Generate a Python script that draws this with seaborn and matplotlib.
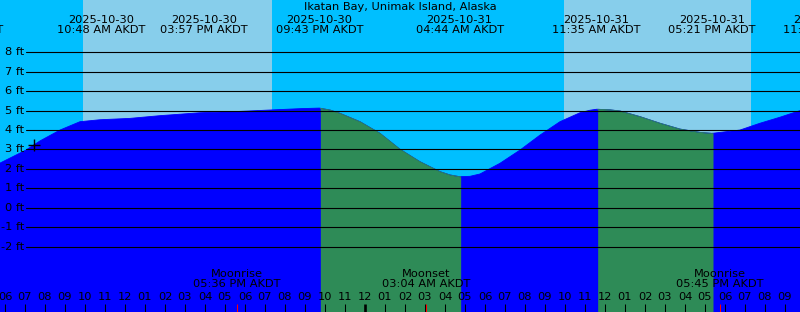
import numpy as np
import pandas as pd
import matplotlib
matplotlib.use("Agg")
import matplotlib.pyplot as plt
import seaborn as sns
from matplotlib.transforms import blended_transform_factory

# ---------------- data ----------------
title = "Ikatan Bay, Unimak Island, Alaska"
base = pd.Timestamp("2025-10-30 00:00")

# tide curve: hours since 2025-10-30 00:00 AKDT, height in ft
curve_hours = [5.75, 7.05, 7.75, 8.75, 9.75, 10.75, 12.25, 13.75, 15.75, 17.75,
               19.25, 20.75, 21.717, 22.25, 22.75, 23.75, 24.75, 25.75, 26.75,
               27.75, 28.25, 28.733, 29.25, 29.75, 30.75, 31.75, 32.75, 33.75,
               34.75, 35.25, 35.583, 36.25, 36.75, 37.75, 38.75, 39.75, 40.75,
               41.35, 42.75, 43.75, 44.75, 45.75]
curve_ft = [2.30, 2.97, 3.44, 4.00, 4.43, 4.53, 4.60, 4.74, 4.89, 4.96,
            5.03, 5.10, 5.13, 5.03, 4.86, 4.43, 3.83, 3.01, 2.37,
            1.86, 1.69, 1.60, 1.62, 1.74, 2.29, 2.97, 3.74, 4.43,
            4.89, 5.02, 5.07, 5.04, 4.98, 4.69, 4.35, 4.05, 3.88,
            3.83, 4.00, 4.35, 4.66, 5.00]

tide_times = ["2025-10-30 03:42", "2025-10-30 10:48", "2025-10-30 15:57",
              "2025-10-30 21:43", "2025-10-31 04:44", "2025-10-31 11:35",
              "2025-10-31 17:21", "2025-10-31 23:05"]
tide_dates = ["2025-10-30", "2025-10-30", "2025-10-30", "2025-10-30",
              "2025-10-31", "2025-10-31", "2025-10-31", "2025-10-31"]
tide_clock = ["03:42 AM AKDT", "10:48 AM AKDT", "03:57 PM AKDT", "09:43 PM AKDT",
              "04:44 AM AKDT", "11:35 AM AKDT", "05:21 PM AKDT", "11:05 PM AKDT"]

sunrise = ["2025-10-30 09:54", "2025-10-31 09:57"]
sunset = ["2025-10-30 19:21", "2025-10-31 19:18"]

falling_start = ["2025-10-30 21:46", "2025-10-31 11:38"]
falling_end = ["2025-10-31 04:47", "2025-10-31 17:24"]

moon_times = ["2025-10-30 17:36", "2025-10-31 03:04", "2025-10-31 17:45"]
moon_events = ["Moonrise", "Moonset", "Moonrise"]
moon_clock = ["05:36 PM AKDT", "03:04 AM AKDT", "05:45 PM AKDT"]

ft_levels = [-2, -1, 0, 1, 2, 3, 4, 5, 6, 7, 8]
hour_ticks = list(range(6, 46))
now_time = "2025-10-30 07:27"


def hrs(s):
    return (pd.Timestamp(s) - base) / pd.Timedelta("1h")


# ---------------- style ----------------
NIGHT = "#00BFFF"
DAY = "#87CEEB"
WATER = "#0000FF"
FALL = "#2E8B57"

sns.set_style("white")
plt.rcParams["font.family"] = ["DejaVu Sans"]
FS = 8.2

W, H = 800, 312
fig = plt.figure(figsize=(W / 100, H / 100), dpi=100)
ax = fig.add_axes([0, 0, 1, 1])
ax.set_facecolor(NIGHT)
XMIN, XMAX = 5.75, 45.75
YTOP, YBOT = 10.69, -5.36
ax.set_xlim(XMIN, XMAX)
ax.set_ylim(YBOT, YTOP)
ax.axis("off")
fig.patch.set_facecolor(NIGHT)

ch = np.array(curve_hours)
cf = np.array(curve_ft)
df = pd.DataFrame({"hour": ch, "ft": cf})

# daytime bands
for a, b in zip(sunrise, sunset):
    ax.axvspan(hrs(a), hrs(b), color=DAY, lw=0, zorder=0.5)

# water fill
ax.fill_between(ch, cf, YBOT, color=WATER, lw=0, zorder=1)
sns.lineplot(data=df, x="hour", y="ft", ax=ax, color=WATER, lw=0.6, zorder=1.1)
for a, b in zip(falling_start, falling_end):
    ta, tb = hrs(a), hrs(b)
    inside = (ch > ta) & (ch < tb)
    xs = np.concatenate([[ta], ch[inside], [tb]])
    ys = np.concatenate([[np.interp(ta, ch, cf)], cf[inside], [np.interp(tb, ch, cf)]])
    ax.fill_between(xs, ys, YBOT, color=FALL, lw=0, zorder=1.2)
    ax.plot(xs, ys, color=FALL, lw=0.6, zorder=1.25)

# grid lines and labels
for lv in ft_levels:
    ax.axhline(lv, xmin=26 / W, xmax=1, color="black", lw=0.8, zorder=2)
    ax.text(XMIN + 24 / 20, lv, f"{lv} ft", ha="right", va="center",
            fontsize=FS, color="black", zorder=3)

trx = blended_transform_factory(ax.transData, ax.transAxes)

def yf(py):
    return 1 - py / H

# title
ax.text(0.5, yf(7.5), title, transform=ax.transAxes, ha="center", va="center",
        fontsize=FS, color="black")

# tide extreme labels
for t, d, c in zip(tide_times, tide_dates, tide_clock):
    ax.text(hrs(t), yf(25), f"{d}\n{c}", transform=trx, ha="center", va="center",
            fontsize=FS, linespacing=1.05, color="black", clip_on=False)

# moon labels
for t, e, c in zip(moon_times, moon_events, moon_clock):
    ax.text(hrs(t), yf(279), f"{e}\n{c}", transform=trx, ha="center", va="center",
            fontsize=FS, linespacing=1.05, color="black")

# hour ticks and labels
for h in hour_ticks:
    lab = (base + pd.Timedelta(hours=h)).strftime("%I")
    ax.text(h, yf(297), lab, transform=trx, ha="center", va="center",
            fontsize=FS, color="black")
    lw = 1.9 if h % 24 == 0 else 0.75
    ax.vlines(h, 0, 8 / H, transform=trx, color="black", lw=lw, zorder=4)

for t in moon_times:
    ax.vlines(hrs(t), 0, 8 / H, transform=trx, color="red", lw=0.75, zorder=4)

# current time marker
tn = hrs(now_time)
ax.plot([tn], [np.interp(tn, ch, cf)], marker="+", color="black", ms=8, mew=1.0, zorder=5)

fig.savefig("out.png", dpi=100, facecolor=NIGHT)
